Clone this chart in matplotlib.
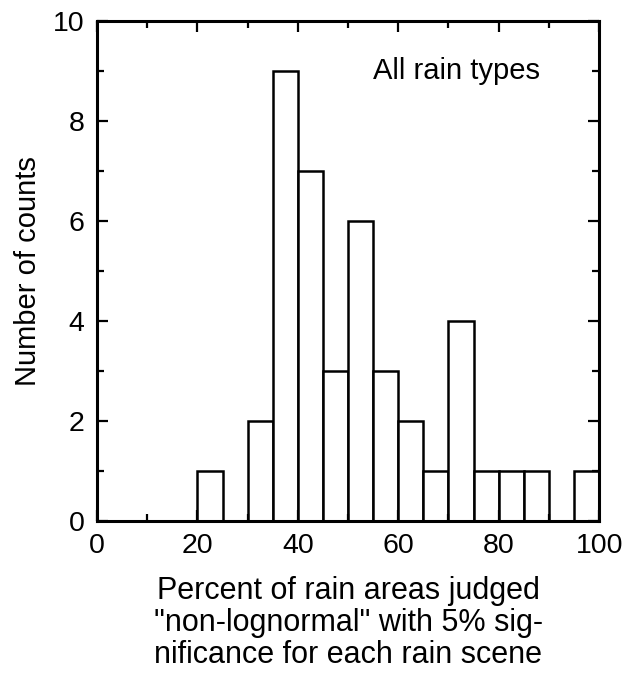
import matplotlib
matplotlib.use('Agg')
import matplotlib.pyplot as plt
from matplotlib.ticker import MultipleLocator

# histogram bins (left edges, width 5) and counts
bin_edges = [20, 25, 30, 35, 40, 45, 50, 55, 60, 65, 70, 75, 80, 85, 90, 95, 100]
counts = [1, 0, 2, 9, 7, 3, 6, 3, 2, 1, 4, 1, 1, 1, 0, 1]

x_label = 'Percent of rain areas judged\n"non-lognormal" with 5% sig-\nnificance for each rain scene'
y_label = 'Number of counts'
note = 'All rain types'

plt.rcParams.update({
    "font.family": ["Liberation Sans", "DejaVu Sans"],
})

fig = plt.figure(figsize=(6.32, 6.73), dpi=100)
ax = fig.add_axes([0.1535, 0.226, 0.7945, 0.743])

widths = [b - a for a, b in zip(bin_edges[:-1], bin_edges[1:])]
ax.bar(bin_edges[:-1], counts, width=widths, align='edge',
       facecolor='white', edgecolor='black', linewidth=1.8)

ax.set_xlim(0, 100)
ax.set_ylim(0, 10)
ax.xaxis.set_major_locator(MultipleLocator(20))
ax.xaxis.set_minor_locator(MultipleLocator(10))
ax.yaxis.set_major_locator(MultipleLocator(2))
ax.yaxis.set_minor_locator(MultipleLocator(1))
ax.tick_params(which='both', direction='in', top=True, right=True, width=1.6)
ax.tick_params(which='major', length=8, labelsize=20.5, pad=9)
ax.tick_params(which='minor', length=5)
for s in ax.spines.values():
    s.set_linewidth(2.2)

ax.set_xlabel(x_label, fontsize=22, linespacing=1.08, labelpad=12)
ax.set_ylabel(y_label, fontsize=21, labelpad=8)
ax.text(55, 8.84, note, fontsize=21, va='baseline', ha='left')

fig.savefig("out.png", dpi=100, facecolor='white')
plt.close(fig)
